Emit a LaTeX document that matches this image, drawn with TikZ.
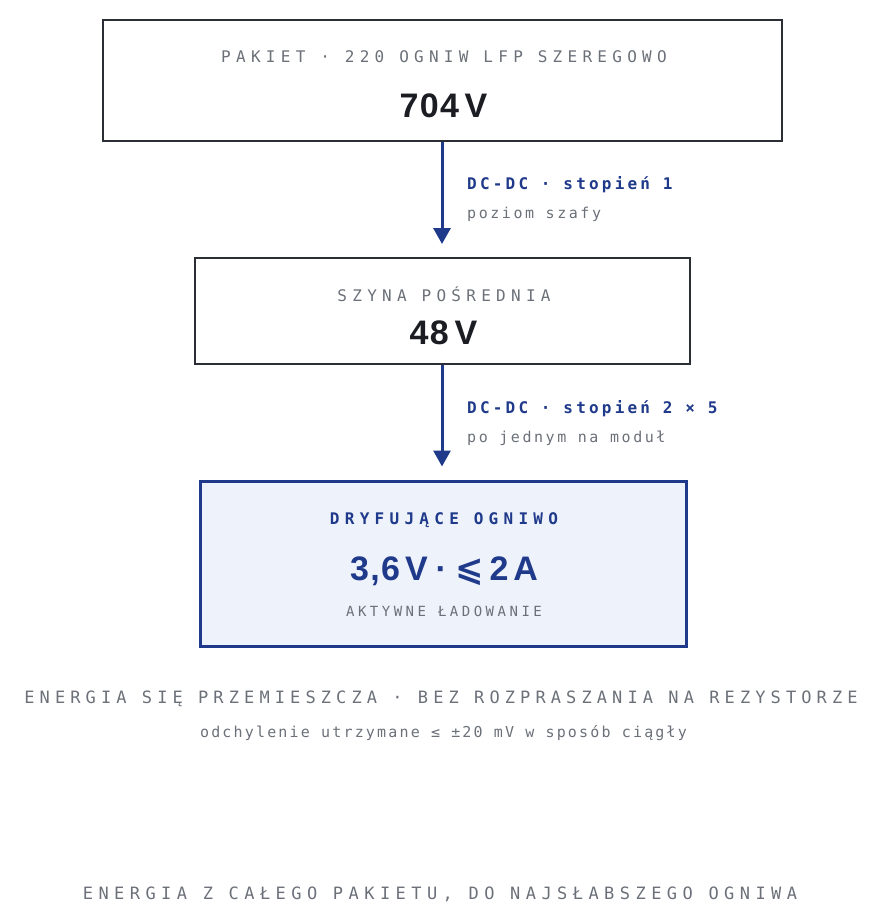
\documentclass[tikz,border=0pt]{standalone}
\usepackage{fontspec}
\usetikzlibrary{arrows.meta}
\setmainfont{Liberation Sans}
% tracked monospace faces for labels
\newfontfamily\monoW[LetterSpace=33]{DejaVu Sans Mono}
\newfontfamily\monoF[LetterSpace=30]{DejaVu Sans Mono}
\newfontfamily\monoE[LetterSpace=32]{DejaVu Sans Mono}
\newfontfamily\monoM[LetterSpace=20]{DejaVu Sans Mono}
\newfontfamily\monoN[LetterSpace=17]{DejaVu Sans Mono}
\newfontfamily\monoD[LetterSpace=14.5]{DejaVu Sans Mono}
\newfontfamily\monoA[LetterSpace=25]{DejaVu Sans Mono}
\newfontfamily\bigsans[LetterSpace=4]{Liberation Sans}
\newfontfamily\symsans{DejaVu Sans}

\definecolor{ink}{HTML}{1B1D23}
\definecolor{frame}{HTML}{2B2E35}
\definecolor{navy}{HTML}{1F3A8A}
\definecolor{muted}{HTML}{6B7079}
\definecolor{paleblue}{HTML}{EEF2FA}

\tikzset{
  stagebox/.style={draw=frame, line width=2pt, fill=white, inner sep=0pt},
  cellbox/.style={draw=navy, line width=3pt, fill=paleblue, inner sep=0pt},
  capslabel/.style={anchor=base, inner sep=0pt, text=muted,
    font=\monoW\fontsize{16}{19}\selectfont},
  bigvalue/.style={anchor=base, inner sep=0pt, text=ink,
    font=\bigsans\bfseries\fontsize{34}{39}\selectfont},
  flowarrow/.style={draw=navy, line width=3pt,
    -{Triangle[length=16pt,width=17pt]}, shorten >=13pt},
  steplabel/.style={anchor=base west, inner sep=0pt, text=navy,
    font=\monoM\bfseries\fontsize{16}{19}\selectfont},
  notelabel/.style={anchor=base west, inner sep=0pt, text=muted,
    font=\monoN\fontsize{15}{18}\selectfont},
}

\begin{document}
\begin{tikzpicture}[x=1pt, y=-1pt]
  \useasboundingbox (0,0) rectangle (879,903);

  % stage 1: the whole pack
  \node[stagebox, minimum width=679pt, minimum height=121pt] (pack) at (442.5,80.5) {};
  \node[capslabel] (packtitle) at (444,62) {PAKIET · 220 OGNIW LFP SZEREGOWO};
  \node[bigvalue] (packvolt) at (443.5,117) {704\,V};

  % stage 2: intermediate bus
  \node[stagebox, minimum width=495pt, minimum height=106pt] (bus) at (442.5,311) {};
  \node[capslabel] (bustitle) at (444,301) {SZYNA POŚREDNIA};
  \node[bigvalue] (busvolt) at (443.5,344.5) {48\,V};

  % stage 3: the drifting cell
  \node[cellbox, minimum width=486pt, minimum height=165pt] (cell) at (443,563.5) {};
  \node[capslabel, text=navy, font=\monoW\bfseries\fontsize{16}{19}\selectfont]
    (celltitle) at (444,524) {DRYFUJĄCE OGNIWO};
  \node[bigvalue, text=navy] (cellvalue) at (444,580)
    {3,6\kern5pt V\kern8pt·\kern8pt{\symsans ⩽}\kern6pt 2\kern5pt A};
  \node[capslabel, font=\monoA\fontsize{14}{17}\selectfont]
    (cellnote) at (444,616) {AKTYWNE ŁADOWANIE};

  % converters between the stages
  \draw[flowarrow] (pack.south -| 442,0) -- (bus.north -| 442,0);
  \draw[flowarrow] (bus.south -| 442,0) -- (cell.north -| 442,0);

  \node[steplabel] (conv1) at (467,189) {DC-DC · stopień 1};
  \node[notelabel] (conv1note) at (467,218) {poziom szafy};
  \node[steplabel] (conv2) at (467,413) {DC-DC · stopień 2 × 5};
  \node[notelabel] (conv2note) at (467,442) {po jednym na moduł};

  % footnotes
  \node[capslabel, font=\monoF\fontsize{17}{20}\selectfont]
    (summary) at (441,703) {ENERGIA SIĘ PRZEMIESZCZA · BEZ ROZPRASZANIA NA REZYSTORZE};
  \node[notelabel, anchor=base, font=\monoD\fontsize{15}{18}\selectfont]
    (detail) at (443.5,737) {odchylenie utrzymane ≤ ±20 mV w sposób ciągły};
  \node[capslabel, font=\monoE\fontsize{17}{20}\selectfont]
    (closing) at (440,899) {ENERGIA Z CAŁEGO PAKIETU, DO NAJSŁABSZEGO OGNIWA};
\end{tikzpicture}
\end{document}
